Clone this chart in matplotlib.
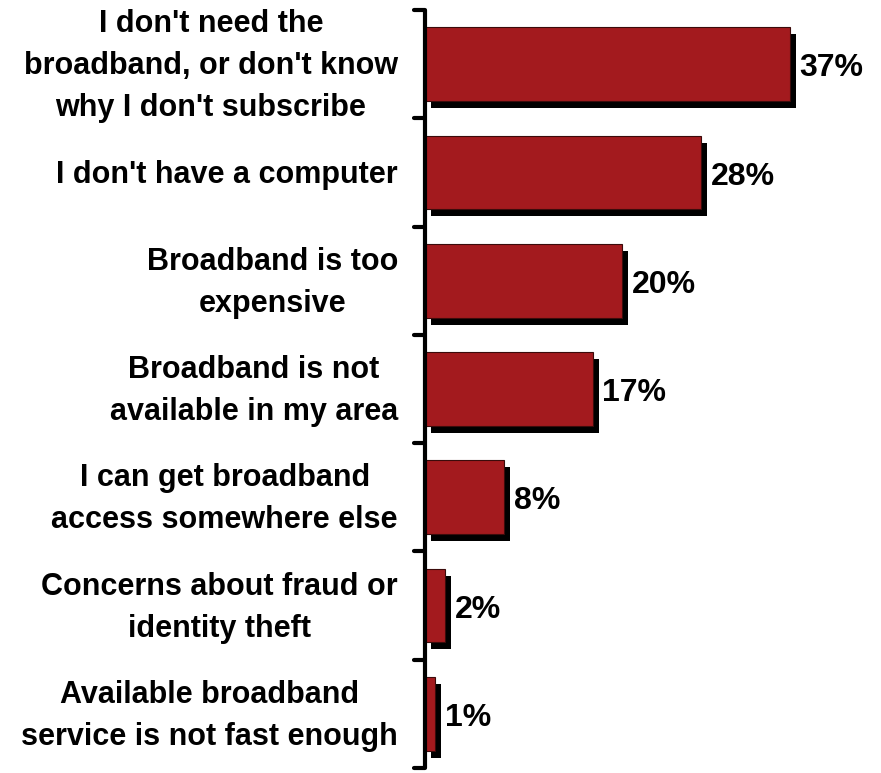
import matplotlib
matplotlib.use('Agg')
import matplotlib.pyplot as plt
import matplotlib.transforms as mtransforms

categories = [
    "I don't need the\nbroadband, or don't know\nwhy I don't subscribe",
    "I don't have a computer",
    "Broadband is too\nexpensive",
    "Broadband is not\navailable in my area",
    "I can get broadband\naccess somewhere else",
    "Concerns about fraud or\nidentity theft",
    "Available broadband\nservice is not fast enough",
]
values = [37, 28, 20, 17, 8, 2, 1]

BAR_COLOR = '#A31A1E'
W, H = 881, 773

plt.rcParams['font.family'] = ['Liberation Sans', 'DejaVu Sans']
plt.rcParams['font.weight'] = 'bold'

fig = plt.figure(figsize=(W / 100, H / 100), dpi=100)
fig.patch.set_facecolor('white')
ax = fig.add_axes([425 / W, (H - 768) / H, (W - 425) / W, 758 / H])

y = list(range(len(values)))
px_per_unit = 9.86
ax.set_xlim(0, (W - 425) / px_per_unit)
ax.set_ylim(len(values) - 0.5, -0.5)

# drop shadow behind each bar
shadow = mtransforms.offset_copy(ax.transData, fig=fig, x=6, y=-7, units='dots')
ax.barh(y, values, height=0.68, color='black', transform=shadow, zorder=1)
ax.barh(y, values, height=0.68, color=BAR_COLOR, edgecolor='#3b0b0b',
        linewidth=0.8, zorder=2)

for yi, v in zip(y, values):
    ax.annotate(f'{v}%', xy=(v, yi), xytext=(7, -3), textcoords='offset points',
                ha='left', va='center', fontsize=23, fontweight='bold', color='black')

for yi, label in zip(y, categories):
    ax.annotate(label, xy=(0, yi), xycoords=('axes fraction', 'data'),
                xytext=(-19.5, -1.5), textcoords='offset points',
                ha='right', va='center', multialignment='center',
                fontsize=22, fontweight='bold', color='black', linespacing=1.52)

# axis line with rounded tick marks at category boundaries
for s in ['top', 'right', 'bottom', 'left']:
    ax.spines[s].set_visible(False)
ax.set_xticks([])
ax.set_yticks([])
trans = ax.get_yaxis_transform()
ax.plot([0, 0], [-0.5, len(values) - 0.5], color='black', lw=3,
        transform=trans, clip_on=False, solid_capstyle='butt', zorder=3)
tick_len = 11 / (W - 425)
for b in [i - 0.5 for i in range(len(values) + 1)]:
    ax.plot([-tick_len, 0], [b, b], color='black', lw=3, transform=trans,
            clip_on=False, solid_capstyle='round', zorder=3)

fig.savefig('out.png', dpi=100, facecolor=fig.get_facecolor())
